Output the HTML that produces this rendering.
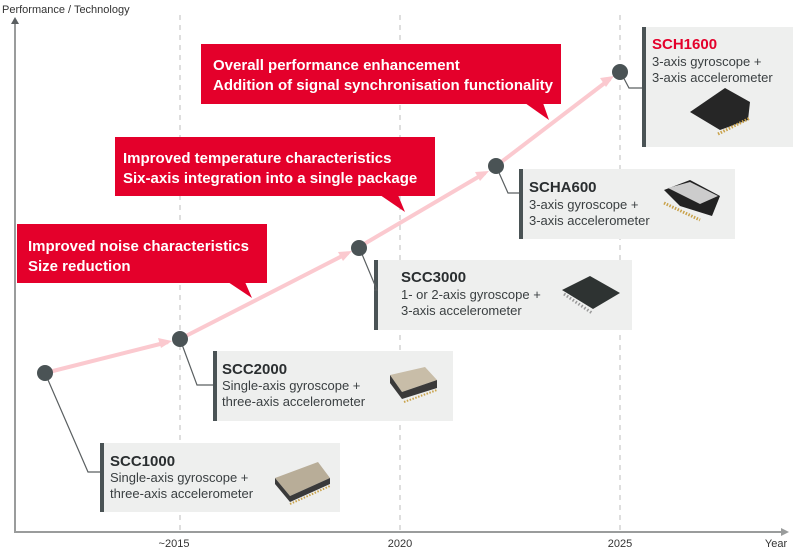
<!DOCTYPE html>
<html><head><meta charset="utf-8"><style>
html,body{margin:0;padding:0;background:#fff;}
svg{display:block;font-family:"Liberation Sans",sans-serif;}
.rt{fill:#fff;font-weight:bold;font-size:15px;}
.pt{fill:#2a2e30;font-weight:bold;font-size:15px;}
.pb{fill:#3a3f41;font-size:13px;}
</style></head><body>
<svg width="800" height="550" viewBox="0 0 800 550" xmlns="http://www.w3.org/2000/svg">
<!-- dashed grid -->
<g stroke="#d4d4d4" stroke-width="1.5" stroke-dasharray="5,5">
<line x1="180" y1="15" x2="180" y2="532"/>
<line x1="400" y1="15" x2="400" y2="532"/>
<line x1="620" y1="15" x2="620" y2="532"/>
</g>
<!-- axes -->
<g stroke="#9a9c9c" stroke-width="2" fill="none">
<line x1="15" y1="22" x2="15" y2="532"/>
<line x1="14" y1="532" x2="782" y2="532"/>
</g>
<polygon points="15,17 11,24 19,24" fill="#5a5f61"/>
<polygon points="789,532 781,528 781,536" fill="#9a9c9c"/>
<text x="2" y="13" font-size="11" fill="#333">Performance / Technology</text>
<g font-size="11" fill="#333" text-anchor="middle">
<text x="174" y="547">~2015</text>
<text x="400" y="547">2020</text>
<text x="620" y="547">2025</text>
<text x="776" y="547">Year</text>
</g>
<!-- red callouts -->
<g fill="#e4002b">
<rect x="17" y="224" width="250" height="59"/>
<polygon points="228,282 245,282 252,298"/>
<rect x="115" y="137" width="320" height="59"/>
<polygon points="380,195 398,195 405,212"/>
<rect x="201" y="44" width="360" height="60"/>
<polygon points="525,103 543,103 549,120"/>
</g>
<text class="rt" x="28" y="251">Improved noise characteristics</text>
<text class="rt" x="28" y="271">Size reduction</text>
<text class="rt" x="123" y="163">Improved temperature characteristics</text>
<text class="rt" x="123" y="183">Six-axis integration into a single package</text>
<text class="rt" x="213" y="70">Overall performance enhancement</text>
<text class="rt" x="213" y="90">Addition of signal synchronisation functionality</text>
<!-- pink trend -->
<g stroke="#fbc9cf" stroke-width="4" fill="none">
<polyline points="45,373 168,342"/>
<polyline points="180,339 348,253"/>
<polyline points="359,247 485,173"/>
<polyline points="496,166 610,79"/>
</g>
<g fill="#fbc9cf">
<polygon points="172,341 158,338 161,348"/>
<polygon points="352,251 338,252 343,261"/>
<polygon points="489,171 475,172 480,181"/>
<polygon points="614,76 600,78 606,87"/>
</g>
<!-- product boxes -->
<g fill="#eeefee">
<rect x="100" y="443" width="240" height="69"/>
<rect x="213" y="351" width="240" height="70"/>
<rect x="374" y="260" width="258" height="70"/>
<rect x="519" y="169" width="216" height="70"/>
<rect x="642" y="27" width="151" height="120"/>
</g>
<g fill="#4a5355">
<rect x="100" y="443" width="4" height="69"/>
<rect x="213" y="351" width="4" height="70"/>
<rect x="374" y="260" width="4" height="70"/>
<rect x="519" y="169" width="4" height="70"/>
<rect x="642" y="27" width="4" height="120"/>
</g>
<!-- connectors -->
<g stroke="#5a5f61" stroke-width="1.2" fill="none">
<polyline points="45,373 88,472 100,472"/>
<polyline points="180,339 197,385 213,385"/>
<polyline points="359,247 377,290 374,290"/>
<polyline points="496,166 508,193 519,193"/>
<polyline points="620,71 629,88 642,88"/>
</g>
<g fill="#4a5355">
<circle cx="45" cy="373" r="8"/>
<circle cx="180" cy="339" r="8"/>
<circle cx="359" cy="248" r="8"/>
<circle cx="496" cy="166" r="8"/>
<circle cx="620" cy="72" r="8"/>
</g>
<!-- texts -->
<text class="pt" x="110" y="466">SCC1000</text>
<text class="pb" x="110" y="482">Single-axis gyroscope +</text>
<text class="pb" x="110" y="498">three-axis accelerometer</text>
<text class="pt" x="222" y="374">SCC2000</text>
<text class="pb" x="222" y="390">Single-axis gyroscope +</text>
<text class="pb" x="222" y="406">three-axis accelerometer</text>
<text class="pt" x="401" y="282">SCC3000</text>
<text class="pb" x="401" y="299">1- or 2-axis gyroscope +</text>
<text class="pb" x="401" y="315">3-axis accelerometer</text>
<text class="pt" x="529" y="192">SCHA600</text>
<text class="pb" x="529" y="209">3-axis gyroscope +</text>
<text class="pb" x="529" y="225">3-axis accelerometer</text>
<text class="pt" x="652" y="49" fill="#e4002b" style="fill:#e4002b">SCH1600</text>
<text class="pb" x="652" y="66">3-axis gyroscope +</text>
<text class="pb" x="652" y="82">3-axis accelerometer</text>
<!-- chips -->
<g>
<polygon points="275,478 318,462 330,478 290,496" fill="#b8ad98"/>
<polygon points="290,496 330,478 330,484 290,502" fill="#3a3a3a"/>
<polygon points="275,478 290,496 290,502 275,484" fill="#3a3a3a"/>
<line x1="290" y1="504" x2="330" y2="486" stroke="#c9a24a" stroke-width="2" stroke-dasharray="1.5,1.5"/>
<polygon points="390,375 425,367 437,380 402,392" fill="#c8bda8"/>
<polygon points="402,392 437,380 437,388 402,399" fill="#3a3a3a"/>
<polygon points="390,375 402,392 402,399 390,383" fill="#3a3a3a"/>
<line x1="404" y1="402" x2="437" y2="390" stroke="#c9a24a" stroke-width="2" stroke-dasharray="1.5,1.5"/>
<polygon points="562,290 590,276 620,293 593,309" fill="#2e3332"/>
<line x1="564" y1="294" x2="592" y2="313" stroke="#999" stroke-width="3" stroke-dasharray="1.5,2"/>
<polygon points="664,190 690,180 720,196 712,216 680,206" fill="#222"/>
<polygon points="668,188 690,182 718,196 700,204" fill="#ccc"/>
<line x1="664" y1="203" x2="700" y2="220" stroke="#c9a24a" stroke-width="3" stroke-dasharray="1.5,1.5"/>
<polygon points="690,112 725,88 750,102 748,120 720,130" fill="#262626"/>
<line x1="718" y1="134" x2="750" y2="118" stroke="#c9a24a" stroke-width="3" stroke-dasharray="1.5,1.5"/>
</g>
</svg>
</body></html>
